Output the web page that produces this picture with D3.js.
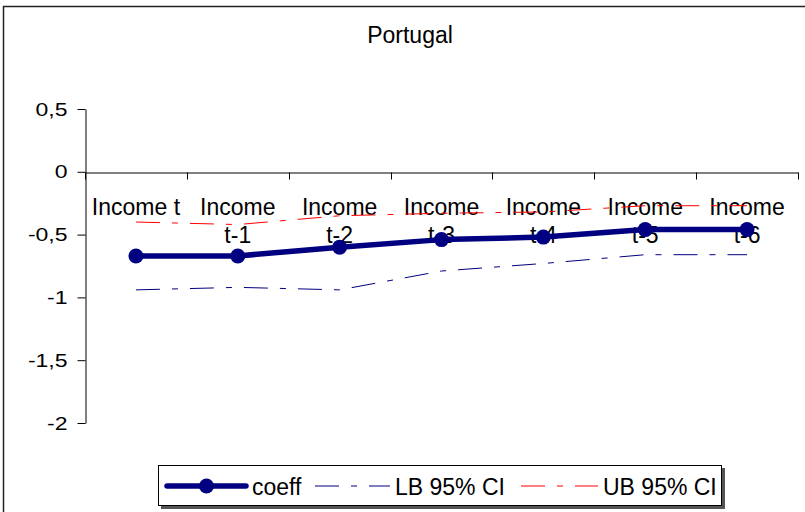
<!DOCTYPE html>
<html>
<head>
<meta charset="utf-8">
<script src="https://cdn.jsdelivr.net/npm/d3@7"></script>
<style>
  body { margin: 0; background: #fff; }
  svg { display: block; }
  text { font-family: "Liberation Sans", Arial, sans-serif; fill: #000; }
</style>
</head>
<body>
<svg id="chart" width="805" height="512"></svg>
<script>
// chart values
var categories = ["Income t", "Income t-1", "Income t-2", "Income t-3", "Income t-4", "Income t-5", "Income t-6"];
var categoryLines = [["Income t"], ["Income", "t-1"], ["Income", "t-2"], ["Income", "t-3"], ["Income", "t-4"], ["Income", "t-5"], ["Income", "t-6"]];
var coeff = [-0.67, -0.67, -0.60, -0.54, -0.52, -0.46, -0.46];
var lb95 = [-0.94, -0.92, -0.94, -0.79, -0.73, -0.66, -0.66];
var ub95 = [-0.40, -0.42, -0.35, -0.33, -0.32, -0.27, -0.27];
var yTicks = [0.5, 0, -0.5, -1, -1.5, -2];
var legendNames = ["coeff", "LB 95% CI", "UB 95% CI"];

var navy = "#000080";
var red = "#ff0000";

var svg = d3.select("#chart");

// outer chart frame (runs off the right and bottom of the picture)
svg.append("rect")
    .attr("x", 3.5).attr("y", 6.5)
    .attr("width", 900).attr("height", 600)
    .attr("fill", "#fff")
    .attr("stroke", "#222")
    .attr("stroke-width", 1.5);

// title
svg.append("text")
    .attr("x", 410).attr("y", 43)
    .attr("text-anchor", "middle")
    .style("font-size", "23px")
    .text("Portugal");

// scales
var x = d3.scaleBand().domain(categories).range([85, 798]);
var y = d3.scaleLinear().domain([-2, 0.5]).range([423, 109]);

function cx(i) { return x(categories[i]) + x.bandwidth() / 2; }

// y axis
var fmt = function (d) { return String(d).replace(".", ","); };
var yAxis = d3.axisLeft(y)
    .tickValues(yTicks)
    .tickFormat(fmt)
    .tickSize(8)
    .tickSizeOuter(0)
    .tickPadding(10);

var yG = svg.append("g")
    .attr("transform", "translate(85.5,0)")
    .call(yAxis);
yG.select(".domain").attr("stroke", "#000");
yG.selectAll(".tick line").attr("stroke", "#000");
yG.selectAll(".tick text")
    .style("font-size", "23px")
    .attr("font-family", null)
    .attr("transform", "scale(1,0.82)");

// category axis on the zero line
var xAxis = d3.axisBottom(x).tickSize(0).tickSizeOuter(0).tickFormat("");
var xG = svg.append("g")
    .attr("transform", "translate(0," + (Math.round(y(0)) + 0.5) + ")")
    .call(xAxis);
xG.select(".domain").attr("stroke", "#000");

var bounds = categories.map(function (c) { return x(c); }).concat([x.range()[1]]);
xG.selectAll(".bound")
    .data(bounds)
    .enter().append("line")
    .attr("class", "bound")
    .attr("x1", function (d) { return Math.round(d) + 0.5; })
    .attr("x2", function (d) { return Math.round(d) + 0.5; })
    .attr("y1", 0).attr("y2", 7)
    .attr("stroke", "#000");

// category labels, wrapped like the original
var labels = svg.append("g").attr("class", "cat-labels")
    .selectAll("text")
    .data(categoryLines)
    .enter().append("text")
    .attr("text-anchor", "middle")
    .style("font-size", "23px")
    .attr("transform", function (d, i) { return "translate(" + cx(i) + "," + (y(0) + 43) + ")"; });

labels.selectAll("tspan")
    .data(function (d) { return d; })
    .enter().append("tspan")
    .attr("x", 0)
    .attr("y", function (d, j) { return j * 28; })
    .text(function (d) { return d; });

// series
var line = d3.line()
    .x(function (d, i) { return cx(i); })
    .y(function (d) { return y(d); });

var dashCI = "24,12,6,12";

svg.append("path")
    .datum(lb95)
    .attr("d", line)
    .attr("fill", "none")
    .attr("stroke", navy)
    .attr("stroke-width", 1)
    .attr("stroke-dasharray", dashCI);

svg.append("path")
    .datum(ub95)
    .attr("d", line)
    .attr("fill", "none")
    .attr("stroke", red)
    .attr("stroke-width", 1)
    .attr("stroke-dasharray", dashCI);

svg.append("path")
    .datum(coeff)
    .attr("d", line)
    .attr("fill", "none")
    .attr("stroke", navy)
    .attr("stroke-width", 5.5)
    .attr("stroke-linejoin", "round");

svg.selectAll(".dot")
    .data(coeff)
    .enter().append("circle")
    .attr("class", "dot")
    .attr("cx", function (d, i) { return cx(i); })
    .attr("cy", function (d) { return y(d); })
    .attr("r", 7.5)
    .attr("fill", navy);

// legend
var legend = svg.append("g").attr("class", "legend");
legend.append("rect")
    .attr("x", 161).attr("y", 468)
    .attr("width", 564).attr("height", 41)
    .attr("fill", "#555");
legend.append("rect")
    .attr("x", 158.5).attr("y", 465.5)
    .attr("width", 563).attr("height", 40)
    .attr("fill", "#fff")
    .attr("stroke", "#000")
    .attr("stroke-width", 1);

var ly = 486;
var legendItems = [
    { name: legendNames[0], x0: 167, x1: 246, color: navy, width: 5.5, dash: null, dot: true, tx: 252 },
    { name: legendNames[1], x0: 315, x1: 390, color: navy, width: 1, dash: dashCI, dot: false, tx: 395 },
    { name: legendNames[2], x0: 521, x1: 598, color: red, width: 1, dash: dashCI, dot: false, tx: 603 }
];

legendItems.forEach(function (it) {
    legend.append("line")
        .attr("x1", it.x0).attr("x2", it.x1)
        .attr("y1", ly).attr("y2", ly)
        .attr("stroke", it.color)
        .attr("stroke-width", it.width)
        .attr("stroke-linecap", it.dot ? "round" : "butt")
        .attr("stroke-dasharray", it.dash);
    if (it.dot) {
        legend.append("circle")
            .attr("cx", (it.x0 + it.x1) / 2).attr("cy", ly)
            .attr("r", 7.5)
            .attr("fill", it.color);
    }
    legend.append("text")
        .attr("x", it.tx).attr("y", ly + 8.5)
        .style("font-size", "23px")
        .text(it.name);
});
</script>
</body>
</html>
